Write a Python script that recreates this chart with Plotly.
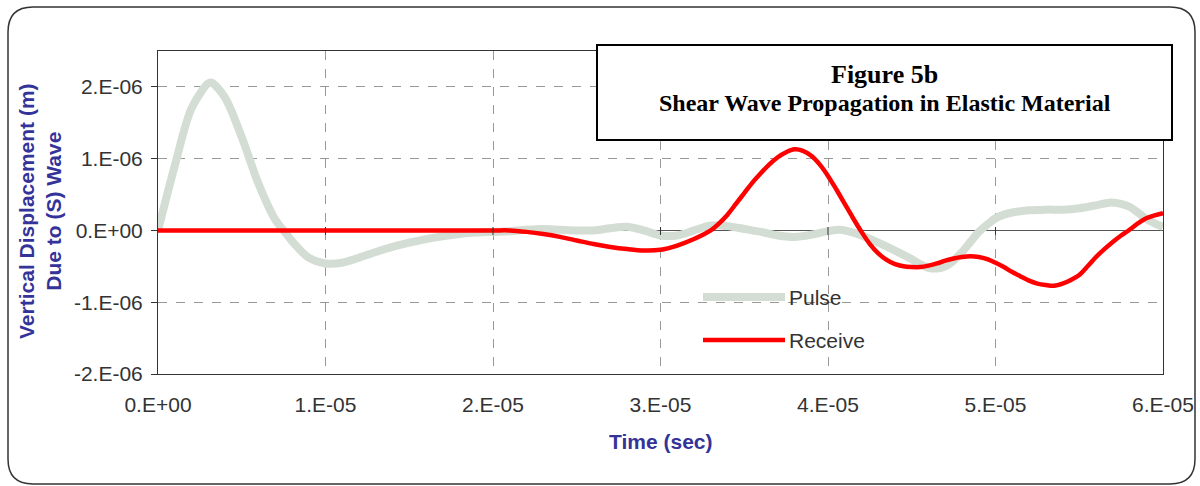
import plotly.graph_objects as go

# ---- data (time in microseconds, displacement in micrometres) ----
pulse_t = [0, 1, 2, 3, 3.2, 4, 5, 6, 7, 7.5, 8, 9, 10, 11, 12, 13, 14, 15, 16, 17, 18, 19, 20,
           21, 22, 23, 24, 25, 26, 27, 28, 29, 30, 31, 32, 33, 34, 35, 36, 37, 38, 39, 40, 40.7,
           41.5, 42, 43, 44, 45, 45.5, 46, 46.5, 47, 47.5, 48, 48.5, 49, 49.5, 50, 50.5, 51, 52,
           53, 54, 55, 56, 56.9, 57.5, 58, 58.5, 59, 59.5, 60]
pulse_y = [0, 0.9, 1.7, 2.05, 2.06, 1.85, 1.3, 0.65, 0.15, 0, -0.15, -0.38, -0.46, -0.45, -0.38,
           -0.3, -0.23, -0.17, -0.12, -0.08, -0.05, -0.03, -0.02, -0.01, 0.01, 0.02, 0.01, 0.0,
           0.0, 0.03, 0.05, 0.0, -0.07, -0.07, 0.0, 0.07, 0.06, 0.02, -0.02, -0.07, -0.09, -0.06,
           -0.01, 0.01, -0.03, -0.07, -0.17, -0.28, -0.4, -0.47, -0.52, -0.53, -0.5, -0.42, -0.3,
           -0.16, -0.02, 0.08, 0.17, 0.22, 0.25, 0.28, 0.29, 0.29, 0.31, 0.35, 0.39, 0.37, 0.33,
           0.25, 0.16, 0.1, 0.05]

recv_t = [0, 5, 10, 15, 20, 21, 22, 23, 24, 25, 26, 27, 28, 29, 30, 31, 32, 33, 33.5, 34, 34.5,
          35, 35.5, 36, 36.5, 37, 37.5, 38, 38.5, 39, 39.5, 40, 40.5, 41, 41.5, 42, 42.5, 43,
          43.5, 44, 44.5, 45, 45.5, 46, 46.5, 47, 47.5, 48, 48.5, 49, 49.5, 50, 50.5, 51, 51.5,
          52, 52.5, 53, 53.5, 54, 54.5, 55, 55.5, 56, 56.5, 57, 57.5, 58, 58.5, 59, 59.5, 60]
recv_y = [0, 0, 0, 0, 0, 0.0, -0.02, -0.05, -0.09, -0.14, -0.19, -0.23, -0.26, -0.28, -0.27,
          -0.21, -0.12, 0.0, 0.1, 0.22, 0.37, 0.52, 0.67, 0.8, 0.92, 1.02, 1.09, 1.13, 1.11, 1.04,
          0.92, 0.76, 0.57, 0.37, 0.17, -0.02, -0.19, -0.32, -0.41, -0.47, -0.5, -0.51, -0.51,
          -0.49, -0.46, -0.42, -0.39, -0.37, -0.36, -0.37, -0.4, -0.45, -0.51, -0.58, -0.64,
          -0.7, -0.74, -0.76, -0.77, -0.74, -0.69, -0.62, -0.5, -0.37, -0.26, -0.16, -0.07, 0.01,
          0.1, 0.17, 0.21, 0.24]

x_tickvals = [0, 1e-5, 2e-5, 3e-5, 4e-5, 5e-5, 6e-5]
x_ticktext = ["0.E+00", "1.E-05", "2.E-05", "3.E-05", "4.E-05", "5.E-05", "6.E-05"]
y_tickvals = [2e-6, 1e-6, 0, -1e-6, -2e-6]
y_ticktext = ["2.E-06", "1.E-06", "0.E+00", "-1.E-06", "-2.E-06"]

series_names = ["Pulse", "Receive"]
title_line1 = "Figure 5b"
title_line2 = "Shear Wave Propagation in Elastic Material"

# ---- layout geometry (pixels) ----
W, H = 1200, 486
L, R, T, B = 158, 1163, 51, 374


def px(x):
    return (x - L) / (R - L)


def py(y):
    return (B - y) / (B - T)


fig = go.Figure()
fig.add_trace(go.Scatter(
    x=[t * 1e-6 for t in pulse_t], y=[v * 1e-6 for v in pulse_y], mode="lines",
    line=dict(color="#D3DDD3", width=8, shape="spline", smoothing=0.9),
    name=series_names[0], showlegend=False))
fig.add_trace(go.Scatter(
    x=[t * 1e-6 for t in recv_t], y=[v * 1e-6 for v in recv_y], mode="lines",
    line=dict(color="#FF0000", width=4.5, shape="spline", smoothing=0.9),
    name=series_names[1], showlegend=False))

tick_font = dict(family="Liberation Sans, Arial", size=21, color="#333333")
fig.update_xaxes(range=[0, 6e-5], tickvals=x_tickvals, ticktext=x_ticktext,
                 showgrid=True, gridcolor="#999999", griddash="dash", gridwidth=1,
                 showline=True, linecolor="#333333", linewidth=1, mirror=True,
                 zeroline=False, ticks="", tickfont=tick_font, ticklabelstandoff=12,
                 automargin=False)
fig.update_yaxes(range=[-2e-6, 2.5e-6], tickvals=y_tickvals, ticktext=y_ticktext,
                 showgrid=True, gridcolor="#999999", griddash="dash", gridwidth=1,
                 showline=True, linecolor="#333333", linewidth=1, mirror=True,
                 zeroline=True, zerolinecolor="#555555", zerolinewidth=1,
                 ticks="outside", ticklen=6, tickcolor="#333333", tickfont=tick_font,
                 ticklabelstandoff=4, automargin=False)

shapes = []
# outer rounded border
x0, x1, y0, y1, r = 8, 1195, 7, 484, 25
rx, ry = r / (R - L), r / (B - T)
X0, X1, Y0, Y1 = px(x0), px(x1), py(y0), py(y1)
path = (f"M {X0 + rx} {Y0} L {X1 - rx} {Y0} Q {X1} {Y0} {X1} {Y0 - ry} "
        f"L {X1} {Y1 + ry} Q {X1} {Y1} {X1 - rx} {Y1} "
        f"L {X0 + rx} {Y1} Q {X0} {Y1} {X0} {Y1 + ry} "
        f"L {X0} {Y0 - ry} Q {X0} {Y0} {X0 + rx} {Y0} Z")
shapes.append(dict(type="path", path=path, xref="paper", yref="paper",
                   line=dict(color="#333333", width=1.5), layer="below"))
# title box
shapes.append(dict(type="rect", xref="paper", yref="paper",
                   x0=px(597), x1=px(1172), y0=py(140), y1=py(45),
                   line=dict(color="#000000", width=2), fillcolor="white"))
# x-axis tick marks on the zero line (Excel-style axis crossing)
for tv in x_tickvals[1:-1]:
    shapes.append(dict(type="line", xref="x", yref="paper", x0=tv, x1=tv,
                       y0=py(235), y1=py(227), line=dict(color="#333333", width=1)))
# legend samples
shapes.append(dict(type="line", xref="paper", yref="paper", x0=px(703), x1=px(785),
                   y0=py(297), y1=py(297), line=dict(color="#D3DDD3", width=8)))
shapes.append(dict(type="line", xref="paper", yref="paper", x0=px(703), x1=px(785),
                   y0=py(340), y1=py(340), line=dict(color="#FF0000", width=4.5)))

serif = "Liberation Serif, Times New Roman"
sans = "Liberation Sans, Arial"
annotations = [
    dict(text=f"<b>{title_line1}</b>", x=px(884.5), y=py(74), xref="paper", yref="paper",
         xanchor="center", yanchor="middle", showarrow=False,
         font=dict(family=serif, size=26, color="#000000")),
    dict(text=f"<b>{title_line2}</b>", x=px(885), y=py(103), xref="paper", yref="paper",
         xanchor="center", yanchor="middle", showarrow=False,
         font=dict(family=serif, size=24, color="#000000")),
    dict(text=series_names[0], x=px(787), y=py(297), xref="paper", yref="paper",
         xanchor="left", yanchor="middle", showarrow=False, font=tick_font),
    dict(text=series_names[1], x=px(787), y=py(340), xref="paper", yref="paper",
         xanchor="left", yanchor="middle", showarrow=False, font=tick_font),
    dict(text="<b>Vertical Displacement (m)<br>Due to (S) Wave</b>", x=px(40), y=py(211),
         xref="paper", yref="paper", xanchor="center", yanchor="middle", textangle=-90,
         showarrow=False, font=dict(family=sans, size=21, color="#333399")),
    dict(text="<b>Time (sec)</b>", x=px(661), y=py(441), xref="paper", yref="paper",
         xanchor="center", yanchor="middle", showarrow=False,
         font=dict(family=sans, size=21, color="#333399")),
]

fig.update_layout(width=W, height=H, margin=dict(l=L, r=W - R, t=T, b=H - B, autoexpand=False),
                  paper_bgcolor="white", plot_bgcolor="white",
                  shapes=shapes, annotations=annotations, showlegend=False)

fig.write_html("out.html")
